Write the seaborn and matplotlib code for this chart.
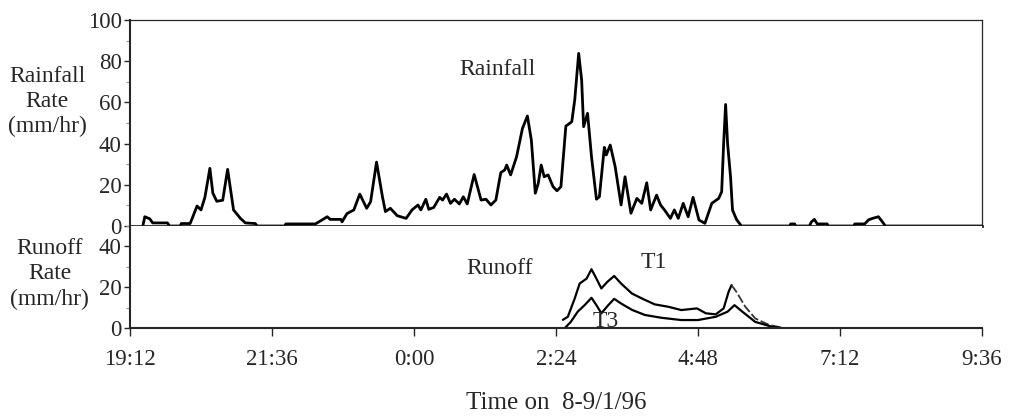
import matplotlib
matplotlib.use("Agg")
import matplotlib.pyplot as plt
import seaborn as sns
import numpy as np
import pandas as pd
from matplotlib.ticker import MultipleLocator

# minutes after 19:12 on 8/1/96, rainfall rate (mm/hr)
rain_min = [13, 15, 20, 23, 38, 40, 51, 52, 61, 68, 72, 76, 81, 84, 88, 94, 99, 105,
            112, 117, 127, 129, 157, 158, 188, 195, 200, 203, 214, 215, 220, 227, 233,
            240, 244, 250, 256, 259, 264, 271, 280, 286, 292, 295, 300, 303, 308, 314,
            317, 321, 325, 329, 334, 338, 342, 349, 356, 361, 366, 371, 376, 380, 382,
            386, 392, 398, 403, 407, 411, 414, 417, 420, 424, 429, 433, 437, 442, 448,
            451, 455, 458, 460, 464, 468, 473, 476, 481, 483, 487, 492, 498, 502, 508,
            514, 519, 524, 528, 534, 538, 542, 548, 552, 556, 561, 566, 571, 577, 583,
            590, 597, 600, 602, 604, 606, 609, 611, 615, 620, 669, 670, 674, 675, 689,
            691, 694, 697, 707, 708, 734, 735, 745, 749, 753, 759, 763, 766, 864]
rain_val = [0, 4.5, 3.5, 1.5, 1.5, 0, 0, 1.2, 1.2, 9.7, 7.8, 14, 28, 16, 12, 12.5, 27.5, 7.8,
            3.7, 1.5, 1.2, 0, 0, 1, 1, 3, 4.5, 3.2, 3.2, 2, 6, 7.8, 15.5,
            8.6, 11.8, 31, 14.2, 7, 8.6, 5, 3.7, 7.8, 10.2, 7.8, 13, 8.1, 9, 13.9,
            12.6, 15.5, 11, 13, 10.7, 14.2, 10.7, 25, 12.6, 13, 10.2, 12.6, 25.9, 27.2, 29.6,
            24.8, 33.6, 47.4, 53.4, 41.7, 15.9, 20.7, 29.6, 23.9, 24.8, 19.1, 17.1, 19.1, 48.5, 50.6,
            61.2, 83.8, 70.9, 48.2, 54.7, 33.6, 13, 14.2, 38.2, 34.5, 39.3, 28.8, 10.2, 23.9, 6.2,
            13.4, 11, 21, 7.8, 15, 10.2, 7.8, 3.7, 7.8, 3.7, 11, 4.5, 13.9, 2.9, 1.3,
            11, 13.4, 16.6, 40, 59, 40, 23.9, 7.8, 3.2, 0, 0, 1, 1, 0, 0,
            2, 3.2, 1, 1, 0, 0, 1, 1, 3, 3.7, 4.5, 2, 0, 0]

# runoff rate (mm/hr), plots T1 and T3
t1_min = [439, 444, 451, 456, 463, 468, 473, 478, 484, 491, 498, 509, 519, 532, 546,
          559, 575, 584, 594, 602, 607, 610, 615, 624, 634, 648, 661]
t1_val = [4, 5.5, 14.5, 21.8, 24.2, 28.8, 24.2, 19.4, 22.6, 25.5, 21.8, 16.9, 14.5, 11.6, 10.4,
          8.8, 9.6, 7.2, 6.7, 9.6, 17.7, 21, 17.7, 10.4, 4.7, 1.5, 0.2]
t3_min = [441, 447, 454, 461, 468, 473, 478, 485, 491, 498, 509, 522, 539, 559, 576,
          594, 606, 613, 621, 634, 651, 661]
t3_val = [0, 3, 8, 11.2, 14.8, 11.2, 7.2, 11.2, 14.3, 12, 8.9, 6.4, 5, 3.9, 3.9,
          5.5, 8, 11.2, 8, 3, 0.6, 0]

tick_labels = ["19:12", "21:36", "0:00", "2:24", "4:48", "7:12", "9:36"]

rain = pd.DataFrame({"t": rain_min, "rate": rain_val})
t1 = pd.DataFrame({"t": t1_min, "rate": t1_val})
t3 = pd.DataFrame({"t": t3_min, "rate": t3_val})

sns.set_style("ticks")
plt.rcParams["font.family"] = ["Liberation Serif", "DejaVu Serif"]
plt.rcParams["lines.solid_joinstyle"] = "round"

W, H = 1011, 417
fig = plt.figure(figsize=(W / 100, H / 100), dpi=100)
ax1 = fig.add_axes([130 / W, 1 - 226 / H, 852 / W, 206 / H])
ax2 = fig.add_axes([130 / W, 1 - 328 / H, 852 / W, 102 / H])

# rainfall panel
sns.lineplot(data=rain, x="t", y="rate", ax=ax1, color="black", lw=2)
ax1.set_xlim(0, 864)
ax1.set_ylim(0, 100)
ax1.yaxis.set_major_locator(MultipleLocator(20))
ax1.yaxis.set_minor_locator(MultipleLocator(10))
ax1.set_xticks([])
ax1.set_xlabel("")
ax1.set_ylabel("")
for s in ["top", "right"]:
    ax1.spines[s].set_visible(True)
    ax1.spines[s].set_linewidth(0.9)
ax1.spines["bottom"].set_linewidth(2)
ax1.spines["left"].set_linewidth(1.5)
ax1.text(373, 76, "Rainfall", ha="center", va="center", fontsize=17)
ax1.text(-0.097, 0.605, "Rainfall\nRate\n(mm/hr)", transform=ax1.transAxes,
         ha="center", va="center", fontsize=17, linespacing=1.25)

# runoff panel
sns.lineplot(data=t1[t1.t <= 610], x="t", y="rate", ax=ax2, color="black", lw=1.6)
sns.lineplot(data=t1[t1.t >= 610], x="t", y="rate", ax=ax2, color="#333333",
             lw=1.3, linestyle=(0, (5, 1.5)))
sns.lineplot(data=t3, x="t", y="rate", ax=ax2, color="black", lw=1.6)
ax2.set_xlim(0, 864)
ax2.set_ylim(0, 50)
ax2.set_yticks([0, 20, 40])
ax2.yaxis.set_minor_locator(MultipleLocator(10))
ax2.set_xticks(np.arange(0, 865, 144))
ax2.set_xticklabels(tick_labels)
ax2.spines["top"].set_visible(False)
ax2.spines["right"].set_visible(False)
ax2.spines["bottom"].set_linewidth(1.5)
ax2.spines["left"].set_linewidth(1.5)
ax2.set_ylabel("")
ax2.set_xlabel("Time on  8-9/1/96", fontsize=18, labelpad=16)
ax2.text(375, 29, "Runoff", ha="center", va="center", fontsize=17)
ax2.text(531, 32, "T1", ha="center", va="center", fontsize=17)
ax2.text(482, 3, "T3", ha="center", va="center", fontsize=17)
ax2.text(-0.094, 0.53, "Runoff\nRate\n(mm/hr)", transform=ax2.transAxes,
         ha="center", va="center", fontsize=17, linespacing=1.25)

for ax in (ax1, ax2):
    ax.tick_params(axis="both", which="major", direction="out", length=4,
                   width=1, labelsize=16.5, pad=2)
    ax.tick_params(axis="y", which="minor", direction="out", length=3,
                   width=0.8, color="#999999")
    ax.tick_params(axis="x", which="minor", length=0)

ax2.tick_params(axis="x", which="major", length=6, pad=9)

fig.savefig("out.png", dpi=100)
